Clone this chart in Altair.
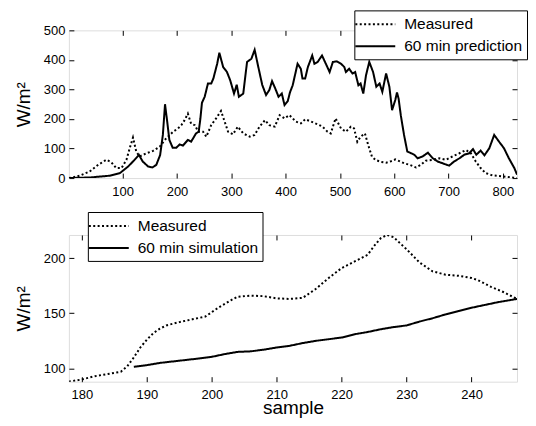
import altair as alt
import pandas as pd

# ---------------- data ----------------
top_meas_x = [1, 10, 21, 39, 55, 70, 79, 88, 98, 107, 113, 119, 125, 131, 144, 156, 168, 180, 193, 202,
              208, 214, 220, 226, 233, 239, 248, 254, 263, 272, 281, 288, 294, 303, 312, 322, 334, 343, 352, 362,
              370, 380, 389, 398, 407, 419, 428, 436, 447, 459, 468, 477, 483, 492, 502, 511, 520, 526, 532, 538,
              546, 552, 559, 566, 575, 585, 594, 602, 612, 620, 628, 640, 649, 658, 671, 683, 695, 707, 720, 732,
              741, 750, 759, 768, 781, 799, 817, 826]
top_meas_y = [0, 3, 8, 22, 45, 62, 54, 34, 34, 62, 101, 137, 90, 73, 84, 92, 106, 134, 157, 168,
              179, 196, 218, 184, 179, 157, 157, 140, 179, 202, 227, 190, 157, 148, 174, 151, 140, 146, 174, 196,
              179, 174, 213, 202, 213, 191, 185, 199, 191, 182, 174, 157, 151, 202, 168, 157, 174, 168, 123, 140,
              151, 112, 72, 61, 55, 52, 57, 63, 55, 49, 45, 36, 45, 59, 62, 67, 62, 73, 84, 95,
              84, 56, 34, 17, 9, 6, 2, 0]

top_pred_x = [1, 20, 40, 58, 76, 95, 110, 119, 130, 137, 147, 155, 162, 169, 174, 178, 182, 186, 192, 199,
              205, 211, 220, 226, 235, 240, 243, 246, 251, 257, 263, 267, 274, 278, 285, 292, 298, 305, 310, 314,
              322, 329, 337, 343, 349, 357, 364, 370, 375, 381, 387, 393, 398, 404, 408, 413, 422, 428, 431, 436,
              441, 449, 453, 459, 467, 474, 481, 487, 494, 502, 508, 511, 517, 523, 528, 534, 538, 543, 548, 554,
              561, 567, 573, 578, 585, 591, 596, 602, 605, 608, 612, 618, 624, 631, 637, 643, 652, 662, 671, 680,
              689, 701, 710, 720, 729, 738, 745, 751, 759, 766, 775, 784, 793, 802, 811, 821, 826]
top_pred_y = [0, 1, 2, 5, 8, 17, 39, 56, 78, 56, 39, 36, 45, 78, 146, 250, 191, 129, 103, 103,
              114, 110, 129, 123, 151, 157, 200, 255, 275, 320, 320, 337, 387, 424, 376, 359, 331, 286, 316, 275,
              286, 393, 404, 434, 382, 315, 281, 298, 328, 303, 275, 286, 247, 261, 290, 314, 387, 370, 337, 337,
              376, 415, 387, 393, 415, 387, 359, 393, 395, 387, 376, 359, 370, 354, 359, 314, 320, 286, 348, 393,
              359, 309, 320, 292, 354, 309, 230, 265, 290, 269, 213, 146, 90, 84, 79, 67, 73, 86, 67, 56,
              50, 42, 56, 67, 79, 84, 98, 79, 93, 77, 101, 146, 123, 101, 67, 34, 12]

bot_meas_x = [178, 180, 182, 184, 186, 187, 188, 189, 190, 191, 192, 193, 195, 197, 199, 201, 203, 204, 206, 208,
              210, 212, 214, 216, 218, 220, 222, 224, 225, 226, 227, 228, 230, 232, 234, 236, 238, 240, 241, 243,
              245, 247]
bot_meas_y = [88, 90, 93, 95, 97, 102, 110, 119, 126, 132, 136, 139, 142, 144.5, 147, 155, 162, 165, 166, 165.5,
              163.5, 163, 164, 172, 182, 191, 197, 203, 211, 218, 221, 219, 208, 196, 188, 185, 184, 182, 180, 174,
              169, 163]

bot_sim_x = [188, 190, 192, 195, 198, 200, 202, 204, 206, 208, 210, 212, 214, 216, 218, 220, 222, 224, 226, 228,
             230, 232, 234, 236, 238, 240, 242, 244, 246, 247]
bot_sim_y = [101.5, 103, 105, 107, 109, 110.5, 113, 115, 115.5, 117, 119, 120.5, 123, 125, 126.5, 128, 131, 133,
             135.5, 137.5, 139, 142.5, 145.5, 149, 152, 155, 157.5, 160, 162, 163]

top_series = ["Measured", "60 min prediction"]
bot_series = ["Measured", "60 min simulation"]

top_xticks = [100, 200, 300, 400, 500, 600, 700, 800]
top_yticks = [0, 100, 200, 300, 400, 500]
bot_xticks = [180, 190, 200, 210, 220, 230, 240]
bot_yticks = [100, 150, 200]

assert len(top_meas_x) == len(top_meas_y) and len(top_pred_x) == len(top_pred_y)
assert len(bot_meas_x) == len(bot_meas_y) and len(bot_sim_x) == len(bot_sim_y)


def make_df(xs1, ys1, xs2, ys2, names):
    a = pd.DataFrame({"sample": xs1, "value": ys1, "series": names[0]})
    b = pd.DataFrame({"sample": xs2, "value": ys2, "series": names[1]})
    return pd.concat([a, b], ignore_index=True)


FONT = "Liberation Sans"


def panel(df, names, xdom, ydom, xticks, yticks, w, h, xtitle, lx, ly):
    ax_common = dict(offset=-5, tickSize=5, domain=False, tickColor="black", grid=False,
                     labelFont=FONT, labelFontSize=13, labelColor="black",
                     titleFont=FONT, titleColor="black", titleFontWeight="normal")
    xaxis = alt.Axis(orient="bottom", values=xticks, labelPadding=7, titleFontSize=19,
                     titlePadding=-3, **ax_common)
    yaxis = alt.Axis(orient="left", values=yticks, labelPadding=4, titleFontSize=19,
                     titlePadding=10, **ax_common)
    xs = alt.Scale(domain=xdom, nice=False, zero=False)
    ys = alt.Scale(domain=ydom, nice=False, zero=False)
    lines = alt.Chart(df).mark_line(color="black", strokeWidth=2, clip=True).encode(
        x=alt.X("sample:Q", scale=xs, axis=xaxis, title=xtitle),
        y=alt.Y("value:Q", scale=ys, axis=yaxis, title="W/m²"),
        strokeDash=alt.StrokeDash(
            "series:N",
            scale=alt.Scale(domain=names, range=[[2, 2.4], [1, 0]]),
            legend=alt.Legend(title=None, orient="none", legendX=lx, legendY=ly,
                              symbolType="M-2.222,0H2.222", symbolSize=324, symbolStrokeWidth=2,
                              symbolStrokeColor="black", symbolOffset=7,
                              labelFont=FONT, labelFontSize=15.5, labelColor="black",
                              labelOffset=19, strokeColor="black", fillColor="white",
                              padding=4, rowPadding=3, cornerRadius=0),
        ),
    )
    ax2 = dict(offset=-5, tickSize=5, domain=False, tickColor="black", grid=False, labels=False)
    frame_ticks = alt.Chart(df).mark_line(opacity=0).encode(
        x=alt.X("sample:Q", scale=xs, axis=alt.Axis(orient="top", values=xticks, **ax2), title=None),
        y=alt.Y("value:Q", scale=ys, axis=alt.Axis(orient="right", values=yticks, **ax2), title=None),
    )
    return alt.layer(lines, frame_ticks).properties(width=w, height=h)


top = panel(make_df(top_meas_x, top_meas_y, top_pred_x, top_pred_y, top_series), top_series,
            [1, 826], [0, 500], top_xticks, top_yticks, 449, 148, None, 286, -20)
bottom = panel(make_df(bot_meas_x, bot_meas_y, bot_sim_x, bot_sim_y, bot_series), bot_series,
               [178, 247], [88, 221], bot_xticks, bot_yticks, 449, 147, "sample", 19, -23)

chart = alt.vconcat(top, bottom, spacing=12).resolve_scale(strokeDash="independent").properties(
    padding={"left": 5, "top": 1, "right": 0, "bottom": 0}
).configure_view(stroke="black", strokeWidth=1).configure(font=FONT)

chart.save("out.html", embed_options={"renderer": "svg", "actions": False})
